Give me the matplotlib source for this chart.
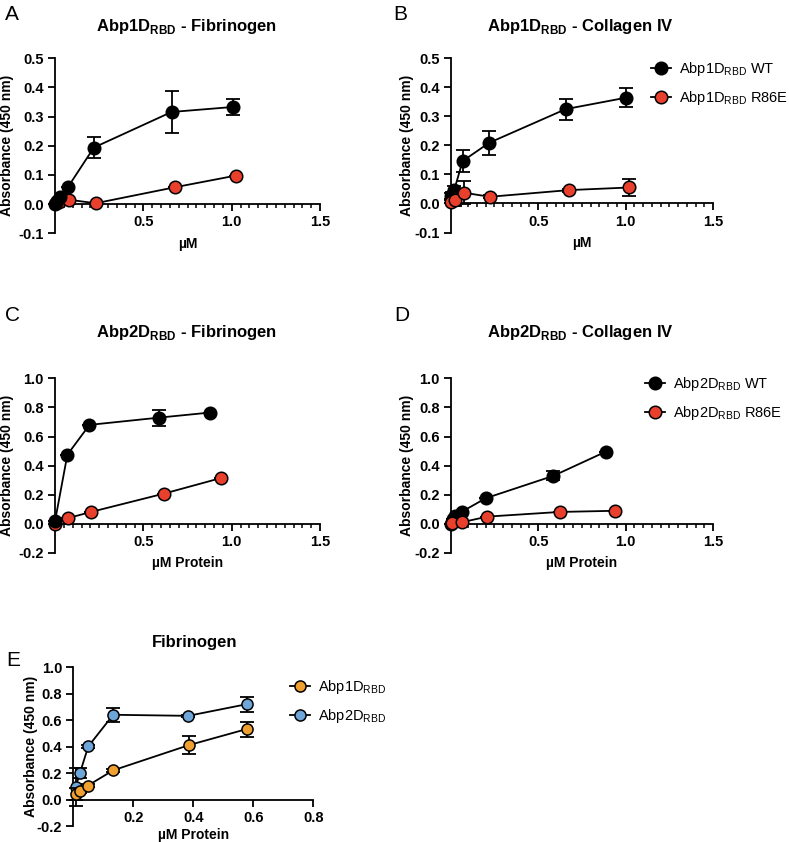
import numpy as np
import matplotlib
matplotlib.use("Agg")
import matplotlib.pyplot as plt
from matplotlib.lines import Line2D
from matplotlib.ticker import MultipleLocator, FixedLocator

plt.rcParams['font.family'] = ['Liberation Sans', 'DejaVu Sans']
plt.rcParams['mathtext.fontset'] = 'custom'
plt.rcParams['mathtext.rm'] = 'Liberation Sans'
plt.rcParams['mathtext.bf'] = 'Liberation Sans:bold'
plt.rcParams['axes.unicode_minus'] = False

W, H = 789, 842

# colours
BLACK = '#000000'
RED = '#E8402C'
ORANGE = '#F0A030'
BLUE = '#6FA6DA'

# Panel A: Abp1D_RBD - Fibrinogen
A_wt_x = [0.0, 0.01, 0.028, 0.075, 0.22, 0.66, 1.005]
A_wt_y = [0.0, 0.012, 0.026, 0.06, 0.194, 0.316, 0.333]
A_wt_err = [0.0, 0.0, 0.0, 0.0, 0.037, 0.072, 0.026]
A_mut_x = [0.003, 0.025, 0.08, 0.23, 0.68, 1.025]
A_mut_y = [0.003, 0.008, 0.015, 0.003, 0.058, 0.098]
A_mut_err = [0.0, 0.0, 0.0, 0.0, 0.0, 0.0]

# Panel B: Abp1D_RBD - Collagen IV
B_wt_x = [0.0, 0.008, 0.02, 0.068, 0.22, 0.658, 1.0]
B_wt_y = [0.026, 0.03, 0.046, 0.146, 0.209, 0.325, 0.364]
B_wt_err = [0.01, 0.01, 0.015, 0.037, 0.042, 0.036, 0.032]
B_mut_x = [0.002, 0.025, 0.077, 0.223, 0.675, 1.02]
B_mut_y = [0.006, 0.012, 0.037, 0.023, 0.046, 0.055]
B_mut_err = [0.005, 0.02, 0.04, 0.005, 0.005, 0.028]

# Panel C: Abp2D_RBD - Fibrinogen
C_wt_x = [0.0, 0.07, 0.195, 0.59, 0.88]
C_wt_y = [0.018, 0.475, 0.68, 0.73, 0.765]
C_wt_err = [0.0, 0.0, 0.0, 0.055, 0.0]
C_mut_x = [0.0, 0.075, 0.204, 0.617, 0.94]
C_mut_y = [0.002, 0.04, 0.082, 0.208, 0.315]
C_mut_err = [0.0, 0.0, 0.0, 0.0, 0.0]

# Panel D: Abp2D_RBD - Collagen IV
D_wt_x = [0.0, 0.015, 0.025, 0.066, 0.2, 0.587, 0.887]
D_wt_y = [0.0, 0.034, 0.057, 0.085, 0.176, 0.33, 0.496]
D_wt_err = [0.0, 0.0, 0.0, 0.0, 0.0, 0.03, 0.0]
D_mut_x = [0.005, 0.066, 0.21, 0.623, 0.94]
D_mut_y = [0.005, 0.012, 0.05, 0.082, 0.09]
D_mut_err = [0.0, 0.0, 0.0, 0.0, 0.0]

# Panel E: Fibrinogen, Abp1D vs Abp2D
E_abp1_x = [0.008, 0.022, 0.048, 0.133, 0.386, 0.578]
E_abp1_y = [0.045, 0.063, 0.105, 0.221, 0.412, 0.533]
E_abp1_err = [0.045, 0.01, 0.01, 0.01, 0.067, 0.057]
E_abp2_x = [0.008, 0.022, 0.05, 0.133, 0.383, 0.578]
E_abp2_y = [0.095, 0.2, 0.402, 0.641, 0.633, 0.721]
E_abp2_err = [0.14, 0.04, 0.01, 0.055, 0.01, 0.057]

fig = plt.figure(figsize=(W / 100, H / 100), dpi=100)


def px_axes(left, top, right, bottom):
    return fig.add_axes([left / W, 1 - bottom / H, (right - left) / W, (bottom - top) / H])


def series(ax, x, y, err, color, z, ms=9):
    ax.errorbar(x, y, yerr=err, fmt='none', ecolor='black', elinewidth=1.3,
                capsize=5, capthick=1.3, zorder=z, clip_on=False)
    ax.plot(x, y, color='black', lw=1.3, marker='o', ms=ms, mfc=color,
            mec='black', mew=1.1, zorder=z + 0.5, clip_on=False)


def style(ax, xmax, ylim, ystep, xmajor, minor=True):
    for s in ['top', 'right']:
        ax.spines[s].set_visible(False)
    ax.spines['bottom'].set_position(('data', 0))
    ax.spines['left'].set_bounds(ylim[0], ylim[1])
    for s in ['left', 'bottom']:
        ax.spines[s].set_linewidth(1.3)
    ax.set_xlim(0, xmax)
    ax.set_ylim(*ylim)
    yt = np.arange(ylim[0], ylim[1] + ystep / 2, ystep)
    ax.set_yticks(yt)
    ax.set_yticklabels([f'{v:.1f}' for v in yt])
    ax.xaxis.set_major_locator(FixedLocator(xmajor))
    ax.set_xticklabels([f'{v:.1f}' for v in xmajor])
    if minor:
        ax.xaxis.set_minor_locator(MultipleLocator(0.05))
    ax.tick_params(axis='both', which='major', length=5, width=1.3, labelsize=10.5, pad=3)
    ax.tick_params(axis='x', which='minor', length=3, width=1.1)
    for lab in ax.get_xticklabels() + ax.get_yticklabels():
        lab.set_fontweight('bold')


def labels(ax, xlabel, xl_y, yl_x):
    ax.set_xlabel(xlabel, fontsize=10, fontweight='bold')
    ax.xaxis.set_label_coords(0.5, xl_y)
    ax.set_ylabel('Absorbance (450 nm)', fontsize=10, fontweight='bold')
    ax.yaxis.set_label_coords(yl_x, 0.5)


axA = px_axes(55, 58.3, 320, 233.3)
series(axA, A_mut_x, A_mut_y, A_mut_err, RED, 3)
series(axA, A_wt_x, A_wt_y, A_wt_err, BLACK, 4)
style(axA, 1.5, (-0.1, 0.5), 0.1, [0.5, 1.0, 1.5])
labels(axA, 'µM', -0.02, -0.155)

axB = px_axes(450.7, 58.3, 713, 232.5)
series(axB, B_wt_x, B_wt_y, B_wt_err, BLACK, 3)
series(axB, B_mut_x, B_mut_y, B_mut_err, RED, 4)
style(axB, 1.5, (-0.1, 0.5), 0.1, [0.5, 1.0, 1.5])
labels(axB, 'µM', -0.02, -0.14)

axC = px_axes(55, 378.3, 320, 553)
series(axC, C_mut_x, C_mut_y, C_mut_err, RED, 3)
series(axC, C_wt_x, C_wt_y, C_wt_err, BLACK, 4)
style(axC, 1.5, (-0.2, 1.0), 0.2, [0.5, 1.0, 1.5])
labels(axC, 'µM Protein', -0.02, -0.155)

axD = px_axes(450.7, 378.3, 713, 553)
series(axD, D_wt_x, D_wt_y, D_wt_err, BLACK, 3)
series(axD, D_mut_x, D_mut_y, D_mut_err, RED, 4)
style(axD, 1.5, (-0.2, 1.0), 0.2, [0.5, 1.0, 1.5])
labels(axD, 'µM Protein', -0.02, -0.14)

axE = px_axes(73.3, 667.3, 313.3, 826)
series(axE, E_abp2_x, E_abp2_y, E_abp2_err, BLUE, 3, ms=8)
series(axE, E_abp1_x, E_abp1_y, E_abp1_err, ORANGE, 4, ms=8)
style(axE, 0.8, (-0.2, 1.0), 0.2, [0.2, 0.4, 0.6, 0.8], minor=False)
labels(axE, 'µM Protein', -0.012, -0.146)

# panel titles
for title, (cx, cy) in [(r'Abp1D$_{\mathbf{RBD}}$ - Fibrinogen', (187, 27)),
                        (r'Abp1D$_{\mathbf{RBD}}$ - Collagen IV', (580, 27)),
                        (r'Abp2D$_{\mathbf{RBD}}$ - Fibrinogen', (187, 332)),
                        (r'Abp2D$_{\mathbf{RBD}}$ - Collagen IV', (580, 332)),
                        ('Fibrinogen', (195, 643))]:
    fig.text(cx / W, 1 - cy / H, title, fontsize=12, fontweight='bold',
             ha='center', va='center')

# panel letters
for letter, (lx, ly) in [('A', (12, 14)), ('B', (400, 14)), ('C', (12, 316)),
                         ('D', (402, 316)), ('E', (13, 660))]:
    fig.text(lx / W, 1 - ly / H, letter, fontsize=15, ha='center', va='center')


def legend(ax, entries, x, y, ms=9):
    handles = [Line2D([], [], color='black', lw=1.3, marker='o', ms=ms, mfc=c,
                      mec='black', mew=1.1) for c, _ in entries]
    ax.legend(handles, [t for _, t in entries], loc='upper left',
              bbox_to_anchor=(x / W, 1 - y / H), bbox_transform=fig.transFigure,
              frameon=False, fontsize=10.5, handlelength=1.4, handletextpad=0.5,
              labelspacing=0.75, borderpad=0, borderaxespad=0)


legend(axB, [(BLACK, r'Abp1D$_{\mathrm{RBD}}$ WT'), (RED, r'Abp1D$_{\mathrm{RBD}}$ R86E')], 651, 60)
legend(axD, [(BLACK, r'Abp2D$_{\mathrm{RBD}}$ WT'), (RED, r'Abp2D$_{\mathrm{RBD}}$ R86E')], 645, 375)
legend(axE, [(ORANGE, r'Abp1D$_{\mathrm{RBD}}$'), (BLUE, r'Abp2D$_{\mathrm{RBD}}$')], 290, 678, ms=8)

fig.savefig('out.png', dpi=100)
